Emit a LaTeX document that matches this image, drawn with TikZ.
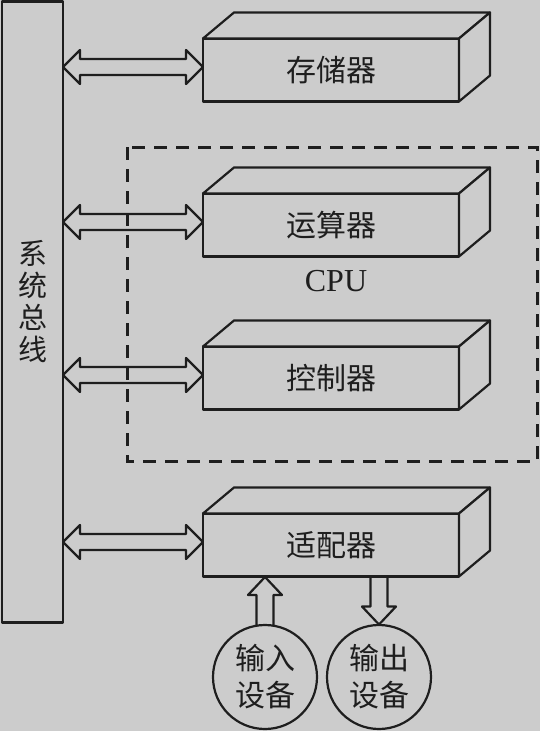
\documentclass[tikz,border=0pt]{standalone}
\usepackage{fontspec}
\setmainfont{Liberation Serif}
\newfontfamily\cjk{Noto Sans CJK SC}
\usetikzlibrary{calc}
\definecolor{bg}{RGB}{204,204,204}
\definecolor{ink}{RGB}{30,30,30}

% top and side faces of a unit box
\newcommand{\drawdepth}[1]{%
  \draw[fill=bg] (#1.north west) -- ++(31,-26) -- ++(256,0) -- (#1.north east) -- cycle;
  \draw[fill=bg] (#1.north east) -- ++(31,-26) -- ++(0,63) -- (#1.south east) -- cycle;}
% hollow double arrow from the bus to a unit
\newcommand{\busarrow}[1]{%
  \draw ($(bus.east |- #1.west)+(0,-3)$) -- ++(17,-17) -- ++(0,9) -- ++(106,0) -- ++(0,-9)
    -- ++(17,17) -- ++(-17,17) -- ++(0,-9) -- ++(-106,0) -- ++(0,9) -- cycle;}

\begin{document}
\begin{tikzpicture}[x=1pt, y=-1pt, line width=2.2pt, line join=round, color=ink,
    unit/.style={draw, fill=bg, minimum width=256pt, minimum height=63pt,
      outer sep=0pt, font=\cjk\fontsize{30}{32}\selectfont},
    dev/.style={draw, circle, fill=bg, minimum size=104pt, inner sep=0pt,
      outer sep=0pt, align=center, font=\cjk\fontsize{30}{37}\selectfont}]
    % Background
    \fill[bg] (0,0) rectangle (540,731);
    \useasboundingbox (0,0) rectangle (540,731);
    % System bus
    \node[draw, line width=2.4pt, fill=bg, minimum width=61pt, minimum height=621pt, outer sep=0pt] (bus) at (32.5,312) {};
    \node[align=center, font=\cjk\fontsize{29}{32}\selectfont] (buslbl) at (33,302) {系\\统\\总\\线};
    % Units
    \node[unit] (mem) at (331,70) {存储器};
    \node[unit] (alu) at (331,225) {运算器};
    \node[unit] (ctl) at (331,378) {控制器};
    \node[unit] (adp) at (331,545) {适配器};
    \foreach \u in {mem,alu,ctl,adp} {\drawdepth{\u}}
    % Bus arrows
    \foreach \u in {mem,alu,ctl,adp} {\busarrow{\u}}
    % CPU frame
    \draw[line width=3pt, line join=miter, dash pattern=on 13pt off 9pt] (127,147) rectangle (537,461);
    \node[font=\fontsize{32}{36}\selectfont] (cpu) at (336,281) {CPU};
    % Devices
    \node[dev] (in) at (265,677) {输入\\设备};
    \node[dev] (out) at (379,677) {输出\\设备};
    % Input arrow
    \draw (in.north) ++(-8.5,0) -- ++(0,-30) -- ++(-8.5,0) -- ++(17,-18) -- ++(17,18) -- ++(-8.5,0) -- ++(0,30);
    % Output arrow
    \draw (out.north |- adp.south) ++(-8.5,0) -- ++(0,30) -- ++(-8.5,0) -- ++(17,18) -- ++(17,-18) -- ++(-8.5,0) -- ++(0,-30);
\end{tikzpicture}
\end{document}
